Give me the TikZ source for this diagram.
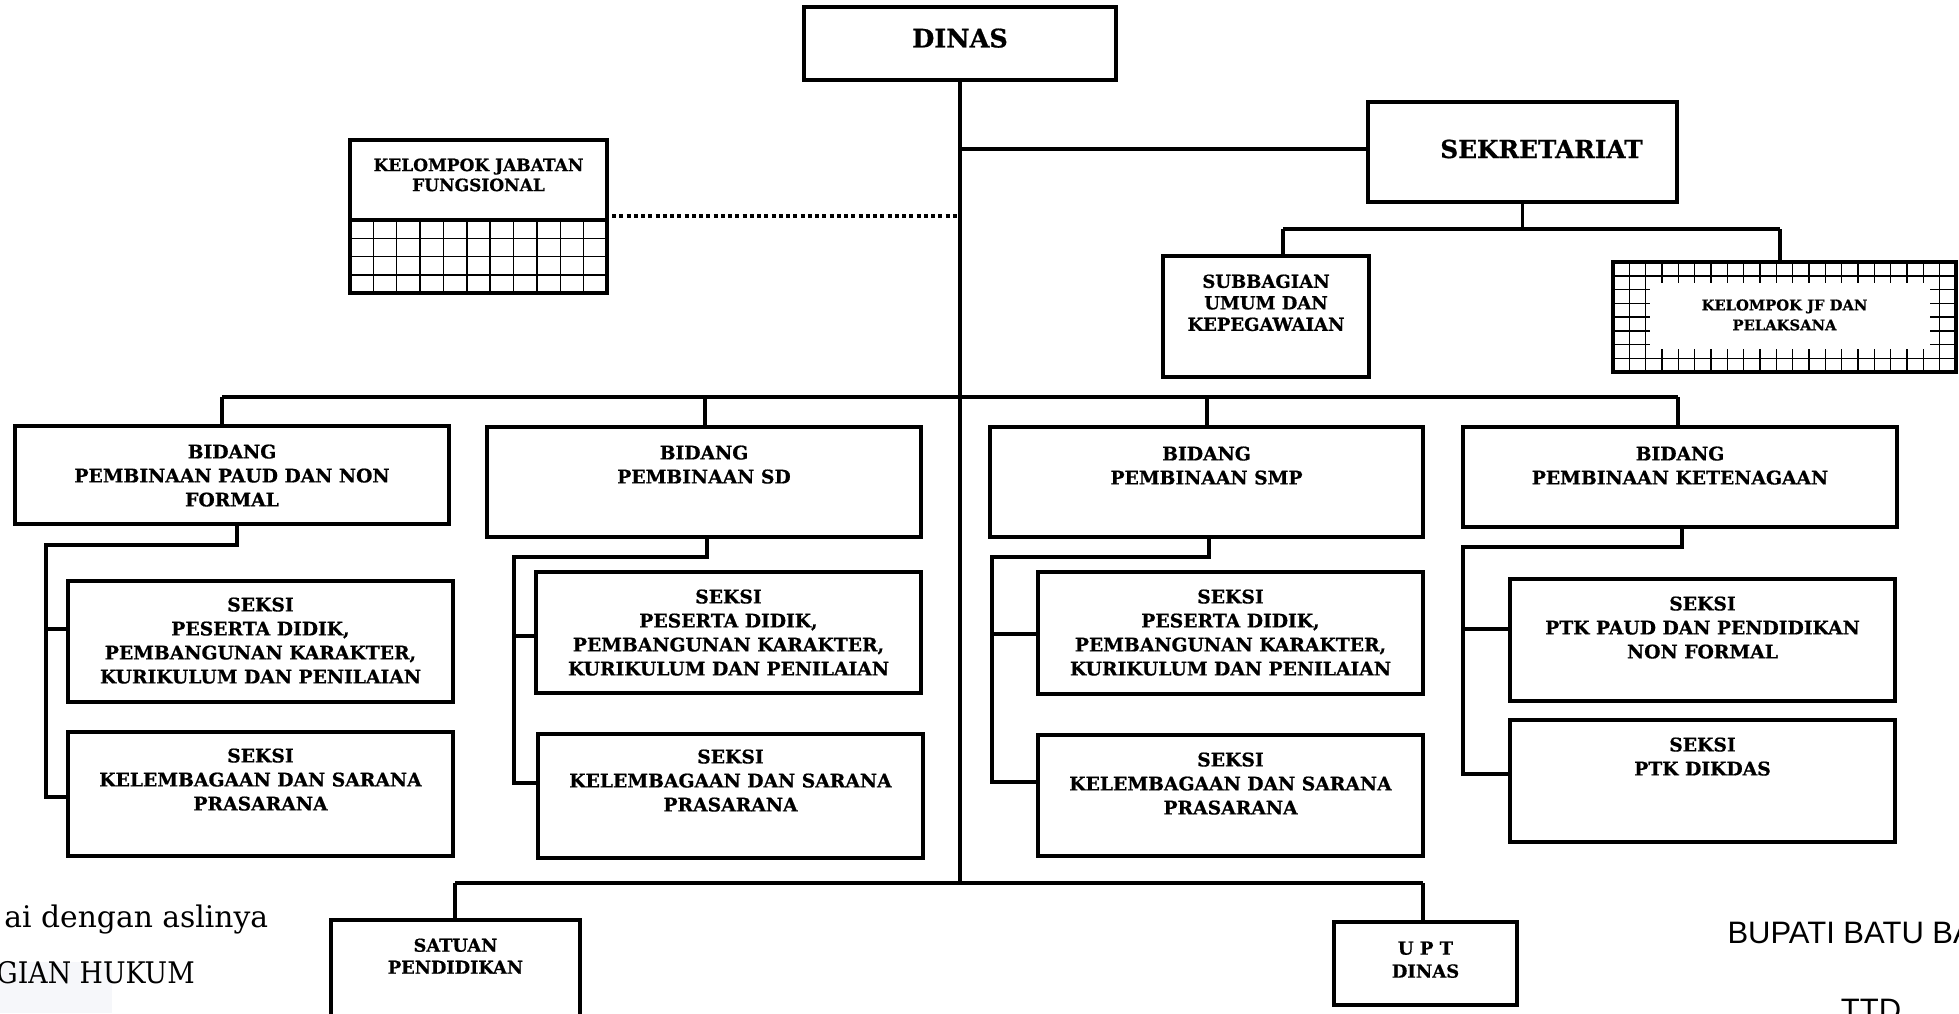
\documentclass[tikz,border=0pt]{standalone}
\usepackage{fontspec}
\newfontfamily\orgfont[BoldFeatures={FakeBold=0.7}]{DejaVu Serif}
\newfontfamily\notefont{DejaVu Serif}
\newfontfamily\notecaps[FakeStretch=0.9]{DejaVu Serif}
\newfontfamily\signfont{Liberation Sans}
\usetikzlibrary{fit,calc}
\newcommand\orgbox[6][]{\node[orgbox,fit={(#3,#4) (#5,#6)},#1] (#2) {};}
\newcommand\orgtext[4]{\node[#2,anchor=north] (#1-t) at ($(#1.north)+(0,#3)$) {#4};}
\begin{document}
\begin{tikzpicture}[x=0.4pt,y=-0.4pt,
  orgbox/.style={draw,line width=1.35pt,inner sep=0pt,outer sep=0pt},
  conn/.style={line width=1.35pt},
  gridln/.style={line width=0.6pt},
  dotline/.style={line width=1.5pt,dash pattern=on 1.6pt off 1.3pt},
  txtbase/.style={inner sep=0pt,align=center},
  txtdinas/.style={txtbase,font=\orgfont\bfseries\fontsize{10.2pt}{13pt}\selectfont},
  txtsek/.style={txtbase,font=\orgfont\bfseries\fontsize{9.9pt}{12pt}\selectfont},
  txtmid/.style={txtbase,font=\orgfont\bfseries\fontsize{7.5pt}{9.6pt}\selectfont},
  txtkjf/.style={txtbase,font=\orgfont\bfseries\fontsize{6.8pt}{8pt}\selectfont},
  txtsubb/.style={txtbase,font=\orgfont\bfseries\fontsize{7.2pt}{8.6pt}\selectfont},
  txtjf/.style={txtbase,font=\orgfont\bfseries\fontsize{5.9pt}{8pt}\selectfont},
  txtsat/.style={txtbase,font=\orgfont\bfseries\fontsize{7.1pt}{8.8pt}\selectfont},
  txtupt/.style={txtbase,font=\orgfont\bfseries\fontsize{7.2pt}{9.2pt}\selectfont},
  txtnote/.style={inner sep=0pt,font=\notefont\fontsize{11.9pt}{14pt}\selectfont},
  txtnotecaps/.style={inner sep=0pt,font=\notecaps\fontsize{11.9pt}{14pt}\selectfont},
  txtsign/.style={inner sep=0pt,font=\signfont\fontsize{12.4pt}{15pt}\selectfont},
]
\useasboundingbox (0,0) rectangle (1959,1013);
\clip (0,0) rectangle (1959,1013);

% faint patch bottom-left
\fill[fill={rgb,255:red,246;green,247;blue,250}] (0,962) rectangle (112,1013);

% DINAS
\orgbox{dinas}{804}{7}{1116}{80}
\orgtext{dinas}{txtdinas}{21}{DINAS}
\coordinate (trunkbot) at (960,883);
\draw[conn] (dinas.south) -- (trunkbot);

% SEKRETARIAT
\orgbox{sekr}{1368}{102}{1677}{202}
\node[txtsek] (sekr-t) at ($(sekr.center)+(19,-3)$) {SEKRETARIAT};
\coordinate (sj) at (960,149);
\draw[conn] (sj) -- (sj -| sekr.west);

\coordinate (shl) at (1283,229);
\coordinate (shr) at (1780,229);
\orgbox{subb}{1163}{256}{1369}{377}
\orgtext{subb}{txtsubb}{18}{SUBBAGIAN\\UMUM DAN\\KEPEGAWAIAN}
\orgbox{jfp}{1613}{262}{1956}{372}
\foreach \k in {1,...,20} \draw[gridln] ({1613+\k*343/21},262) -- ({1613+\k*343/21},372);
\foreach \k in {1,...,7} \draw[gridln] (1613,{262+\k*110/8}) -- (1956,{262+\k*110/8});
\fill[white] (1650,283) rectangle (1930,349);
\node[txtjf] (jfp-t) at ($(jfp.center)+(0,-2)$) {KELOMPOK JF DAN\\PELAKSANA};
\draw[conn] (sekr.south) -- (sekr.south |- shl);
\draw[conn] (shl) -- (shr);
\draw[conn] (shl) -- (shl |- subb.north);
\draw[conn] (shr) -- (shr |- jfp.north);

% KELOMPOK JABATAN FUNGSIONAL
\orgbox{kjf}{350}{140}{607}{293}
\foreach \k in {1,...,10} \draw[gridln] ({350+\k*257/11},220) -- ({350+\k*257/11},293);
\foreach \yy in {238.25,256.5,274.75} \draw[gridln] (350,\yy) -- (607,\yy);
\draw[conn] (350,220) -- (607,220);
\orgtext{kjf}{txtkjf}{18}{KELOMPOK JABATAN\\FUNGSIONAL}
\coordinate (dl) at (960,216);
\draw[dotline] ([xshift=2pt]dl -| kjf.east) -- (dl);

% Bidang row
\coordinate (ra) at (222,397);
\coordinate (rb) at (705,397);
\coordinate (rc) at (1207,397);
\coordinate (rd) at (1678,397);
\draw[conn] (ra) -- (rd);

\orgbox{bpaud}{15}{426}{449}{524}
\orgbox{bsd}{487}{427}{921}{537}
\orgbox{bsmp}{990}{427}{1423}{537}
\orgbox{bket}{1463}{427}{1897}{527}
\draw[conn] (ra) -- (ra |- bpaud.north);
\draw[conn] (rb) -- (rb |- bsd.north);
\draw[conn] (rc) -- (rc |- bsmp.north);
\draw[conn] (rd) -- (rd |- bket.north);
\orgtext{bpaud}{txtmid}{18}{BIDANG\\PEMBINAAN PAUD DAN NON\\FORMAL}
\orgtext{bsd}{txtmid}{18}{BIDANG\\PEMBINAAN SD}
\orgtext{bsmp}{txtmid}{19}{BIDANG\\PEMBINAAN SMP}
\orgtext{bket}{txtmid}{19}{BIDANG\\PEMBINAAN KETENAGAAN}

% Seksi boxes
\orgbox{s1a}{68}{581}{453}{702}
\orgbox{s1b}{68}{732}{453}{856}
\orgbox{s2a}{536}{572}{921}{693}
\orgbox{s2b}{538}{734}{923}{858}
\orgbox{s3a}{1038}{572}{1423}{694}
\orgbox{s3b}{1038}{735}{1423}{856}
\orgbox{s4a}{1510}{579}{1895}{701}
\orgbox{s4b}{1510}{720}{1895}{842}
\orgtext{s1a}{txtmid}{16}{SEKSI\\PESERTA DIDIK,\\PEMBANGUNAN KARAKTER,\\KURIKULUM DAN PENILAIAN}
\orgtext{s1b}{txtmid}{16}{SEKSI\\KELEMBAGAAN DAN SARANA\\PRASARANA}
\orgtext{s2a}{txtmid}{17}{SEKSI\\PESERTA DIDIK,\\PEMBANGUNAN KARAKTER,\\KURIKULUM DAN PENILAIAN}
\orgtext{s2b}{txtmid}{15}{SEKSI\\KELEMBAGAAN DAN SARANA\\PRASARANA}
\orgtext{s3a}{txtmid}{17}{SEKSI\\PESERTA DIDIK,\\PEMBANGUNAN KARAKTER,\\KURIKULUM DAN PENILAIAN}
\orgtext{s3b}{txtmid}{17}{SEKSI\\KELEMBAGAAN DAN SARANA\\PRASARANA}
\orgtext{s4a}{txtmid}{17}{SEKSI\\PTK PAUD DAN PENDIDIKAN\\NON FORMAL}
\orgtext{s4b}{txtmid}{17}{SEKSI\\PTK DIKDAS}

% column connectors
\coordinate (c1a) at (237,545); \coordinate (c1b) at (46,545);
\coordinate (c1c) at (46,629);  \coordinate (c1d) at (46,797);
\draw[conn] (c1a |- bpaud.south) -- (c1a) -- (c1b) -- (c1d) -- (c1d -| s1b.west);
\draw[conn] (c1c) -- (c1c -| s1a.west);

\coordinate (c2a) at (707,557); \coordinate (c2b) at (514,557);
\coordinate (c2c) at (514,636); \coordinate (c2d) at (514,783);
\draw[conn] (c2a |- bsd.south) -- (c2a) -- (c2b) -- (c2d) -- (c2d -| s2b.west);
\draw[conn] (c2c) -- (c2c -| s2a.west);

\coordinate (c3a) at (1209,557); \coordinate (c3b) at (992,557);
\coordinate (c3c) at (992,634);  \coordinate (c3d) at (992,782);
\draw[conn] (c3a |- bsmp.south) -- (c3a) -- (c3b) -- (c3d) -- (c3d -| s3b.west);
\draw[conn] (c3c) -- (c3c -| s3a.west);

\coordinate (c4a) at (1682,547); \coordinate (c4b) at (1463,547);
\coordinate (c4c) at (1463,629); \coordinate (c4d) at (1463,774);
\draw[conn] (c4a |- bket.south) -- (c4a) -- (c4b) -- (c4d) -- (c4d -| s4b.west);
\draw[conn] (c4c) -- (c4c -| s4a.west);

% bottom row
\coordinate (ba) at (455,883);
\coordinate (bb) at (1423,883);
\draw[conn] (ba) -- (bb);
\orgbox{satuan}{331}{920}{580}{1040}
\orgbox{upt}{1334}{922}{1517}{1005}
\draw[conn] (ba) -- (ba |- satuan.north);
\draw[conn] (bb) -- (bb |- upt.north);
\orgtext{satuan}{txtsat}{18}{SATUAN\\PENDIDIKAN}
\orgtext{upt}{txtupt}{19}{U P T\\DINAS}

% side texts
\node[txtnote,anchor=base west] (note1) at (4,927) {ai dengan aslinya};
\node[txtnotecaps,anchor=base west] (note2) at (-4,983) {GIAN HUKUM};
\node[txtsign,anchor=base west] (sign1) at (1727,943) {BUPATI BATU BA};
\node[txtsign,anchor=base] (sign2) at (1871,1020) {TTD};
\end{tikzpicture}
\end{document}
